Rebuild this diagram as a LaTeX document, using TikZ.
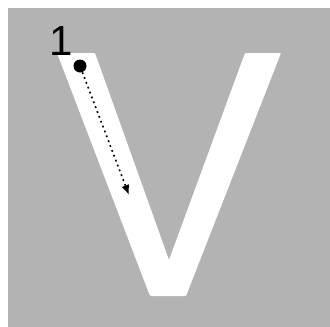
\documentclass[tikz,border=0pt]{standalone}
\usepackage{fontspec}
\usetikzlibrary{arrows.meta}
\newfontfamily\numfont{Liberation Sans}
\definecolor{vgray}{RGB}{179,179,179}

\begin{document}
\begin{tikzpicture}[x=1pt,y=-1pt,
    stroke/.style={line width=1.6pt,dash pattern=on 1.8pt off 3.4pt,
      -{Latex[length=10pt,width=8pt]}},
    startdot/.style={circle,fill=black,minimum size=13pt,inner sep=0pt}]
  \useasboundingbox (0,0) rectangle (330,327);
  \fill[vgray] (8,8) rectangle (330,327);
  % letter V
  \fill[white,rounded corners=1pt] (57,53) -- (95,53) -- (169,260) -- (245,53)
    -- (281,53) -- (186,296) -- (150,296) -- cycle;
  \node[startdot] (start) at (80,66) {};
  \coordinate (stop) at (129,195);
  \draw[stroke] (start) -- (stop);
  \node[inner sep=0pt,font=\numfont\fontsize{42}{42}\selectfont] (num) at (61.5,41.5) {1};
\end{tikzpicture}
\end{document}
